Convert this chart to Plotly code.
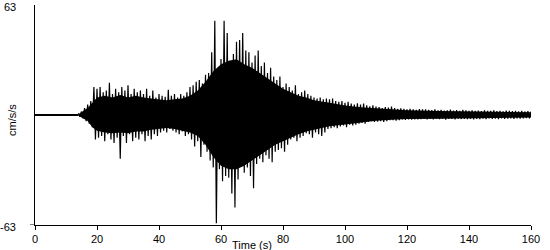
import plotly.graph_objects as go

# Time (s) at which each peak pair is read (1 s steps, 14 .. 161)
t_values = list(range(14, 162))

# Positive peaks (cm/s/s), one per second
upper = [1, 2, 4, 6, 8, 16, 15, 16, 13, 14, 18.5, 12, 15, 13, 16, 14, 17, 12, 15, 13,
         14, 12, 15, 11, 14, 10, 12, 11, 10.5, 14.5, 11, 12, 10, 12, 11, 13, 16, 17, 19, 20,
         18, 23, 24, 36, 54, 22, 32, 54, 47, 31, 35, 42, 43, 47, 37, 36, 30, 34, 37, 28,
         30, 24, 27, 22, 20, 22, 16, 18, 16, 14, 17, 12, 13, 14, 12, 11, 10, 9.5, 10, 9,
         9.5, 9, 9.5, 8, 7.5, 8, 7, 7.5, 6.5, 6, 6.7, 6, 6.5, 5.5, 5, 5.5, 4.8, 4.5, 4, 4.5,
         4.2, 4.8, 4, 3.5, 3.8, 3.5, 3.3, 3.5, 3.2, 3, 3.4, 3.2, 3.3, 3, 2.8, 3.2, 2.6, 2.9, 2.5, 2.7,
         3.1, 2.5, 2.8, 2.4, 3, 2.6, 2.4, 2.7, 2.3, 2.5, 2.2, 2.6, 2.4, 2.3, 2.7, 2.2, 2.4, 2.1, 2.5, 2.3,
         2.2, 2.4, 2.1, 2.3, 2.0, 2.2, 2.0, 1.5]

# Negative peaks (cm/s/s), one per second
lower = [-1, -2, -3.5, -5, -7, -14, -13, -12, -15, -11, -14, -16, -13, -25, -12, -16, -11, -15, -13, -14,
         -11, -15, -12, -14, -11, -12, -10, -9, -10, -8, -9, -10, -11, -9.5, -12, -11, -14, -18, -15, -24,
         -17, -21, -26, -30, -62, -31, -38, -35, -36, -45, -53, -37, -26, -33, -30, -35, -42, -28, -25, -27,
         -23, -25, -27, -21, -20, -19, -21, -17, -14, -13, -15, -13, -12, -10.5, -11, -13, -10, -11, -12, -10,
         -8, -7.6, -7, -7.5, -6.5, -6, -7, -5.5, -6, -5.5, -5, -4.5, -5, -4, -3.5, -4, -3.8, -3.5, -4, -3.5,
         -3, -3, -3.3, -3, -2.5, -2.8, -2.5, -2.7, -2.5, -2.5, -2.4, -2.3, -2.5, -2.2, -2.5, -2.2, -2.4, -2.2, -2.6, -2.3,
         -2.2, -2.5, -2.1, -2.3, -2.2, -2.4, -2.2, -2.5, -2.2, -2.3, -2.1, -2.4, -2.0, -2.2, -2.1, -2.3, -2.0, -2.2, -2.1, -2.0,
         -2.2, -1.9, -2.1, -2.0, -1.8, -2.0, -1.8, -1.5]

# Dense (solid black) core of the trace
core_t = [14, 15, 17, 18.5, 20, 22.5, 25, 27.5, 30, 32.5, 35, 37.5, 40, 42.5, 45, 47.5, 50, 52.5,
          55, 57.5, 60, 62.5, 65, 67.5, 70, 72.5, 75, 77.5, 80, 82.5, 85, 87.5, 90, 95, 100,
          105, 110, 115, 120, 130, 140, 150, 160, 161]
core_upper = [0.5, 1.5, 4, 7, 10, 11, 10, 11.5, 10, 11, 10, 9.5, 9, 8.5, 9, 9.5, 11, 14,
              19, 25, 29, 31, 32, 29, 27, 24, 21, 18, 15, 13, 11, 10, 8.5, 7, 5.5,
              4.5, 3.8, 3.2, 2.7, 2.3, 2.1, 1.9, 1.6, 1]
core_lower = [-0.5, -1.5, -3.5, -7, -9, -10, -10.5, -10, -10.5, -9.5, -9.5, -8.5, -8, -7.5, -8, -9, -10, -12,
              -17, -24, -29, -31, -31, -29, -26, -23, -20, -17, -15, -13, -11, -9.5, -8.5, -6.5, -5.5,
              -4.2, -3.3, -2.7, -2.3, -2.1, -1.9, -1.8, -1.5, -1]

# Quiet pre-event segment
quiet_t = [0, 14]
quiet_v = [0, 0]

x_ticks = [0, 20, 40, 60, 80, 100, 120, 140, 160]
y_ticks = [-63, 63]

lower_t = [t + 0.5 for t in t_values]

# Zigzag trace: peak at t, trough half a step later
xs, ys = [], []
for t, u, lt, l in zip(t_values, upper, lower_t, lower):
    xs += [t, lt]
    ys += [u, l]

fig = go.Figure()
fig.add_trace(go.Scatter(x=quiet_t, y=quiet_v, mode="lines",
                         line=dict(color="black", width=2), hoverinfo="skip"))
# filled solid core
fig.add_trace(go.Scatter(x=core_t, y=core_upper, mode="lines",
                         line=dict(color="black", width=0), hoverinfo="skip"))
fig.add_trace(go.Scatter(x=core_t, y=core_lower, mode="lines", fill="tonexty",
                         fillcolor="black",
                         line=dict(color="black", width=0), hoverinfo="skip"))
# zigzag strokes (needles)
fig.add_trace(go.Scatter(x=xs, y=ys, mode="lines",
                         line=dict(color="black", width=1.2), hoverinfo="skip"))

font = dict(family="Liberation Sans, Arial, sans-serif", size=11, color="black")

ann = [
    dict(text="Time (s)", xref="paper", yref="paper", x=(252 - 35) / 496,
         y=-(245 - 225) / 220, xanchor="center", yanchor="middle",
         showarrow=False, font=font),
    dict(text="cm/s/s", xref="paper", yref="paper", x=(12 - 35) / 496,
         y=(225 - 120) / 220, xanchor="center", yanchor="middle",
         textangle=-90, showarrow=False, font=font),
]
for v in y_ticks:
    ann.append(dict(text=str(v), xref="paper", yref="y", x=-17 / 496, y=v,
                    xanchor="right", yanchor="middle", yshift=-2,
                    showarrow=False, font=font))

fig.update_layout(
    width=550, height=250,
    margin=dict(l=35, r=19, t=5, b=25),
    paper_bgcolor="white", plot_bgcolor="white",
    showlegend=False,
    font=font,
    xaxis=dict(range=[0, 160], tickvals=x_ticks, ticktext=[str(v) for v in x_ticks],
               showline=True, linecolor="black", linewidth=1,
               ticks="outside", ticklen=4, tickcolor="black", tickwidth=1,
               showgrid=False, zeroline=False, tickfont=font),
    yaxis=dict(range=[-63, 63], showticklabels=False, ticks="",
               showline=True, linecolor="black", linewidth=1,
               showgrid=False, zeroline=False),
    shapes=[dict(type="line", xref="paper", yref="y",
                 x0=-5 / 496, x1=0, y0=-63, y1=-63,
                 line=dict(color="black", width=1))],
    annotations=ann,
)

fig.write_html("out.html")
